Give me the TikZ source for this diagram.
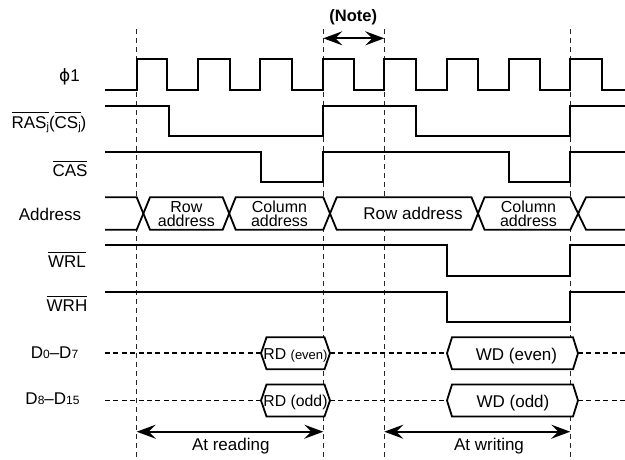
\documentclass[tikz,border=0pt]{standalone}
\usepackage{fontspec}
\setmainfont{Liberation Sans}
\newfontfamily\djv{DejaVu Sans}
\usetikzlibrary{arrows.meta}
\newcommand\ovl[1]{\vbox{\hrule height 0.9pt\kern 3.2pt\hbox{#1}}}
\newcommand\smfs{\fontsize{12}{12}\selectfont}
\newcommand\subj{\raisebox{-2.5pt}{\fontsize{11}{11}\selectfont j}}
\begin{document}
\begin{tikzpicture}[x=1pt,y=-1pt,
  sig/.style={line width=1.8pt, line join=miter},
  guide/.style={line width=0.75pt, dash pattern=on 5pt off 4pt, black!85},
  dline/.style={line width=1.8pt, dash pattern=on 5pt off 3.4pt},
  lbl/.style={font=\fontsize{17}{13.3}\selectfont, inner sep=0pt, anchor=base},
  twoline/.style={inner sep=0pt, anchor=center, align=center, font=\fontsize{16}{14.6}\selectfont},
  hexbox/.style={sig, fill=white},
  dim/.style={line width=1.8pt, {Stealth[length=19pt,width=14pt,inset=7pt]}-{Stealth[length=19pt,width=14pt,inset=7pt]}}]
\useasboundingbox (0,0) rectangle (625,459);

% guide lines
\foreach \n/\x in {g1/136.7, g2/323.3, g3/384.3, g4/570.3}{
  \coordinate (\n t) at (\x,29);
  \coordinate (\n b) at (\x,459);
  \draw[guide] (\n t) -- (\n b);
}

% phi1 clock
\draw[sig] (105,90) -- (136.7,90) -- (136.7,59) -- (167.3,59) -- (167.3,90)
  -- (198.3,90) -- (198.3,59) -- (229.7,59) -- (229.7,90)
  -- (260.3,90) -- (260.3,59) -- (291.7,59) -- (291.7,90)
  -- (323.3,90) -- (323.3,59) -- (354.3,59) -- (354.3,90)
  -- (384.3,90) -- (384.3,59) -- (415.7,59) -- (415.7,90)
  -- (447,90) -- (447,59) -- (477.7,59) -- (477.7,90)
  -- (508.7,90) -- (508.7,59) -- (540,59) -- (540,90)
  -- (570.3,90) -- (570.3,59) -- (602,59) -- (602,90) -- (625,90);

% RAS
\draw[sig] (105,105.7) -- (169,105.7) -- (169,136.3) -- (323.3,136.3) -- (323.3,105.7)
  -- (416,105.7) -- (416,136.3) -- (570.3,136.3) -- (570.3,105.7) -- (625,105.7);

% CAS
\draw[sig] (105,151.7) -- (261,151.7) -- (261,182.3) -- (323.3,182.3) -- (323.3,151.7)
  -- (509,151.7) -- (509,182.3) -- (570.3,182.3) -- (570.3,151.7) -- (625,151.7);

% Address bus
\fill[white] (105,197.3) rectangle (625,229.7);
\draw[sig] (105,197.3) -- (136.7,197.3) -- (150,229.7) -- (222.7,229.7) -- (235.7,197.3)
  -- (323.3,197.3) -- (336.7,229.7) -- (471.5,229.7) -- (484.5,197.3)
  -- (570.3,197.3) -- (586,229.7) -- (625,229.7);
\draw[sig] (105,229.7) -- (136.7,229.7) -- (150,197.3) -- (222.7,197.3) -- (235.7,229.7)
  -- (323.3,229.7) -- (336.7,197.3) -- (471.5,197.3) -- (484.5,229.7)
  -- (570.3,229.7) -- (586,197.3) -- (625,197.3);
\node[twoline] (ra1) at (186.4,213.9) {Row\\address};
\node[twoline] (ca1) at (279.5,213.9) {Column\\address};
\node[lbl] (ra2) at (413,219.3) {Row address};
\node[twoline] (ca2) at (528.5,213.9) {Column\\address};

% WRL, WRH
\draw[sig] (105,245) -- (447,245) -- (447,276) -- (570.3,276) -- (570.3,245) -- (625,245);
\draw[sig] (105,291.7) -- (447,291.7) -- (447,322.3) -- (570.3,322.3) -- (570.3,291.7) -- (625,291.7);

% data buses
\draw[dline] (105,353.3) -- (261,353.3);
\draw[dline] (330,353.3) -- (447,353.3);
\draw[dline] (578,353.3) -- (625,353.3);
\draw[dline] (105,400.5) -- (261,400.5);
\draw[dline] (330,400.5) -- (447,400.5);
\draw[dline] (578,400.5) -- (625,400.5);
\draw[hexbox] (261,353.3) -- (266.5,337.3) -- (324.5,337.3) -- (330,353.3) -- (324.5,369.3) -- (266.5,369.3) -- cycle;
\draw[hexbox] (261,400.5) -- (266.5,384.5) -- (324.5,384.5) -- (330,400.5) -- (324.5,416.5) -- (266.5,416.5) -- cycle;
\draw[hexbox] (447,353.3) -- (452,337.3) -- (573,337.3) -- (578,353.3) -- (573,369.3) -- (452,369.3) -- cycle;
\draw[hexbox] (447,400.5) -- (452,384.5) -- (573,384.5) -- (578,400.5) -- (573,416.5) -- (452,416.5) -- cycle;
\node[lbl] (rde) at (295.5,359) {\fontsize{15.8}{15.8}\selectfont RD {\fontsize{13}{13}\selectfont(even)}};
\node[lbl] (rdo) at (295.5,406.2) {\fontsize{15.8}{15.8}\selectfont RD (odd)};
\node[lbl] (wde) at (516.5,360) {WD (even)};
\node[lbl] (wdo) at (513,407.3) {WD (odd)};

% signal labels
\node[lbl] (phi) at (69.5,81.7) {{\djv ϕ}1};
\node[lbl] (ras) at (49,128.3) {\ovl{RAS\subj}(\ovl{CS\subj})};
\node[lbl] (cas) at (70,176.7) {\ovl{CAS}};
\node[lbl] (addr) at (50,220) {Address};
\node[lbl] (wrl) at (67,267.3) {\ovl{WRL}};
\node[lbl] (wrh) at (67,311.7) {\ovl{WRH}};
\node[lbl] (d07) at (54.5,358.3) {D{\smfs 0}–D{\smfs 7}};
\node[lbl] (d815) at (52.5,404.3) {D{\smfs 8}–D{\smfs 15}};

% dimension arrows
\coordinate (nl) at (323.3,38.3);
\coordinate (nr) at (384.3,38.3);
\draw[dim] (nl) -- (nr);
\node[lbl, font=\fontsize{16.5}{16.5}\selectfont\bfseries] (note) at (353.3,21.7) {(Note)};
\coordinate (rl) at (136.7,431.7);
\coordinate (rr) at (323.3,431.7);
\draw[dim] (rl) -- (rr);
\node[lbl] (rdg) at (230.8,450) {At reading};
\coordinate (wl) at (384.3,431.7);
\coordinate (wr) at (570.3,431.7);
\draw[dim] (wl) -- (wr);
\node[lbl] (wrt) at (489,450) {At writing};
\end{tikzpicture}
\end{document}
